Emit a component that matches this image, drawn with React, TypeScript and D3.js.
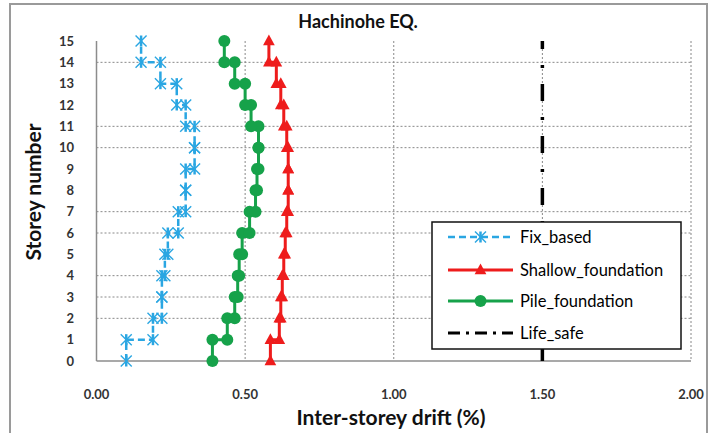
import React from 'react'
import * as d3 from 'd3'

// drift of each storey (storey 1..15), in %
const storeyTicks = d3.range(0, 16)
const driftTicks = [0, 0.5, 1.0, 1.5, 2.0]
const gridStoreys = [2, 3, 4, 6, 7, 10, 11, 14]

const fixBased = [0.10, 0.19, 0.22, 0.22, 0.23, 0.24, 0.275, 0.30, 0.30, 0.33, 0.33, 0.30, 0.27, 0.215, 0.15]
const shallowFoundation = [0.585, 0.615, 0.62, 0.625, 0.63, 0.635, 0.64, 0.645, 0.645, 0.645, 0.64, 0.63, 0.62, 0.605, 0.58]
const pileFoundation = [0.39, 0.44, 0.465, 0.475, 0.48, 0.49, 0.515, 0.535, 0.54, 0.545, 0.545, 0.52, 0.50, 0.465, 0.43]
const lifeSafe = [1.5, 1.5, 1.5, 1.5, 1.5, 1.5, 1.5, 1.5, 1.5, 1.5, 1.5, 1.5, 1.5, 1.5, 1.5]

const seriesNames = ['Fix_based', 'Shallow_foundation', 'Pile_foundation', 'Life_safe']

const W = 710
const H = 433
const FONT = 'Lato, "Open Sans", sans-serif'

const BLUE = '#2aa6e2'
const RED = '#ee1c1c'
const GREEN = '#16a24a'

// step profile: each storey drift held from floor k-1 to floor k
const steps = (d: number[]) => {
  const pts: [number, number][] = []
  d.forEach((v, i) => {
    pts.push([v, i])
    pts.push([v, i + 1])
  })
  return pts
}

const Marker = ({ kind, x, y, color }: { kind: string; x: number; y: number; color: string }) => {
  if (kind === 'x') {
    const s = 5.5
    return (
      <g stroke={color} strokeWidth={1.4}>
        <line x1={x - s} y1={y - s} x2={x + s} y2={y + s} />
        <line x1={x - s} y1={y + s} x2={x + s} y2={y - s} />
        <line x1={x} y1={y - s} x2={x} y2={y + s} strokeWidth={2.5} />
      </g>
    )
  }
  if (kind === 'tri') {
    const s = 6.5
    return <path d={`M${x},${y - s}L${x + s * 0.9},${y + s * 0.65}L${x - s * 0.9},${y + s * 0.65}Z`} fill={color} />
  }
  return <circle cx={x} cy={y} r={6} fill={color} />
}

const App = () => {
  const x = d3.scaleLinear().domain([0, 2]).range([96.5, 691])
  const y = d3.scaleLinear().domain([0, 15]).range([361, 41])
  const line = d3.line<[number, number]>().x(p => x(p[0])).y(p => y(p[1]))

  const series = [
    { name: seriesNames[0], data: fixBased, color: BLUE, marker: 'x', dash: '7,4', width: 2.5 },
    { name: seriesNames[1], data: shallowFoundation, color: RED, marker: 'tri', dash: undefined, width: 3 },
    { name: seriesNames[2], data: pileFoundation, color: GREEN, marker: 'dot', dash: undefined, width: 3 },
  ]
  const safePts: [number, number][] = lifeSafe.map((v, i) => [v, i + 1])
  safePts.unshift([lifeSafe[0], 0])

  const legendX = 432
  const legendY = 222
  const legendRows = [237, 270, 301, 333]

  return (
    <svg width={W} height={H} style={{ position: 'absolute', left: 0, top: 0, background: '#fff' }} fontFamily={FONT}>
      <rect x={10} y={4} width={697} height={440} fill="#fff" stroke="#9a9a9a" strokeWidth={2} />

      {/* gridlines */}
      {driftTicks.slice(1).map(t => (
        <line key={'v' + t} x1={x(t)} x2={x(t)} y1={y(15)} y2={y(0)} stroke="#888" strokeWidth={1} strokeDasharray="2,2" />
      ))}
      {gridStoreys.map(s => (
        <line key={'h' + s} x1={x(0)} x2={x(2)} y1={y(s)} y2={y(s)} stroke="#888" strokeWidth={1} strokeDasharray="2,2" />
      ))}

      {/* axes */}
      <line x1={x(0)} x2={x(0)} y1={y(15)} y2={y(0)} stroke="#8c8c8c" strokeWidth={1.5} />
      <line x1={x(0)} x2={x(2)} y1={y(0)} y2={y(0)} stroke="#8c8c8c" strokeWidth={1.5} />

      {storeyTicks.map(s => (
        <text key={'yl' + s} x={74} y={y(s)} dy="0.35em" textAnchor="end" fontSize={13} fontWeight="bold" fill="#333">
          {s}
        </text>
      ))}
      {driftTicks.map(t => (
        <text key={'xl' + t} x={x(t)} y={399} textAnchor="middle" fontSize={13} fontWeight="bold" fill="#333">
          {t.toFixed(2)}
        </text>
      ))}

      <text x={358} y={28} textAnchor="middle" fontSize={18} fontWeight="bold" fill="#111">Hachinohe EQ.</text>
      <text x={391} y={425} textAnchor="middle" fontSize={21} fontWeight="bold" fill="#111">Inter-storey drift (%)</text>
      <text transform="translate(41,192) rotate(-90)" textAnchor="middle" fontSize={21} fontWeight="bold" fill="#111">Storey number</text>

      {/* life safe limit */}
      <path d={line(safePts) || ''} fill="none" stroke="#000" strokeWidth={3.5} strokeDasharray="17,16,3,16" />

      {series.map(s => {
        const pts = steps(s.data)
        return (
          <g key={s.name}>
            <path d={line(pts) || ''} fill="none" stroke={s.color} strokeWidth={s.width} strokeDasharray={s.dash} />
            {pts.map((p, i) => (
              <Marker key={i} kind={s.marker} x={x(p[0])} y={y(p[1])} color={s.color} />
            ))}
          </g>
        )
      })}

      {/* legend */}
      <rect x={legendX} y={legendY} width={249} height={127} fill="#fff" stroke="#111" strokeWidth={1.5} />
      {series.map((s, i) => (
        <g key={'lg' + s.name}>
          <line x1={448} x2={513} y1={legendRows[i]} y2={legendRows[i]} stroke={s.color} strokeWidth={s.width} strokeDasharray={s.dash} />
          <Marker kind={s.marker} x={480.5} y={legendRows[i]} color={s.color} />
          <text x={520} y={legendRows[i]} dy="0.35em" fontSize={16.5} fill="#000">{s.name}</text>
        </g>
      ))}
      <line x1={448} x2={513} y1={legendRows[3]} y2={legendRows[3]} stroke="#000" strokeWidth={3} strokeDasharray="12,6,3,6" />
      <text x={520} y={legendRows[3]} dy="0.35em" fontSize={16.5} fill="#000">{seriesNames[3]}</text>
    </svg>
  )
}

export default App
